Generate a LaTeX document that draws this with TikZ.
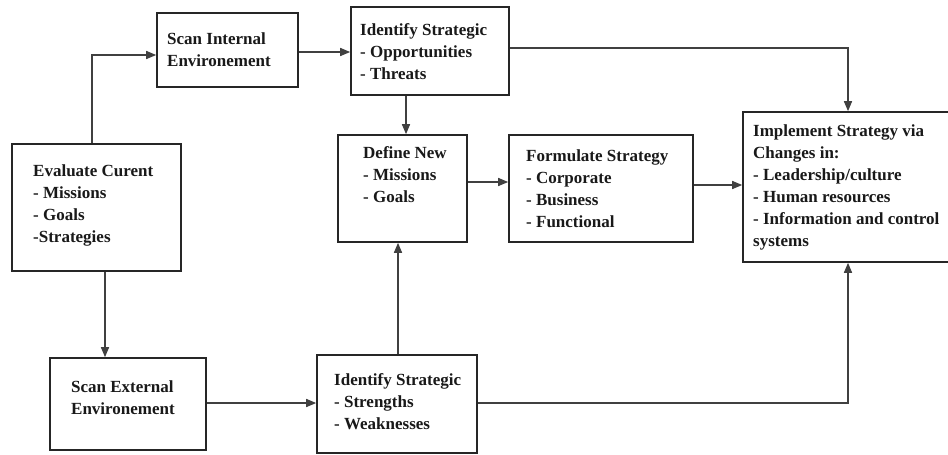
\documentclass[tikz,border=0pt]{standalone}
\usepackage{fontspec}
\setmainfont{Liberation Serif}
\usetikzlibrary{arrows.meta}
\tikzset{
  box/.style={draw=black!85, line width=1.6pt, fill=white, inner sep=0pt},
  txt/.style={anchor=west, inner sep=0pt, align=left, font=\fontsize{17}{22}\selectfont\bfseries, text=black!90},
  arr/.style={draw=black!75, line width=1.5pt, -{Triangle[length=10pt,width=8pt]}},
}
\begin{document}
\begin{tikzpicture}[x=1pt,y=-1pt]
\useasboundingbox (0,0) rectangle (948,455);
\clip (0,0) rectangle (948,455);
% boxes
\node[box, minimum width=169pt, minimum height=127pt] (eval) at (96.5,207.5) {};
\node[box, minimum width=141pt, minimum height=74pt] (scanint) at (227.5,50) {};
\node[box, minimum width=158pt, minimum height=88pt] (idot) at (430,51) {};
\node[box, minimum width=129pt, minimum height=107pt] (defnew) at (402.5,188.5) {};
\node[box, minimum width=184pt, minimum height=107pt] (formulate) at (601,188.5) {};
\node[box, minimum width=217pt, minimum height=150pt] (implement) at (851.5,187) {};
\node[box, minimum width=156pt, minimum height=92pt] (scanext) at (128,404) {};
\node[box, minimum width=160pt, minimum height=98pt] (idsw) at (397,404) {};
% texts
\node[txt] (evalt) at (33,205) {Evaluate Curent\\- Missions\\- Goals\\-Strategies};
\node[txt] (scanintt) at (167,49.5) {Scan Internal\\Environement};
\node[txt] (idott) at (360,52) {Identify Strategic\\- Opportunities\\- Threats};
\node[txt] (defnewt) at (363,175) {Define New\\- Missions\\- Goals};
\node[txt] (formulatet) at (526,188.5) {Formulate Strategy\\- Corporate\\- Business\\- Functional};
\node[txt] (implementt) at (753,187.5) {Implement Strategy via\\Changes in:\\- Leadership/culture\\- Human resources\\- Information and control\\systems};
\node[txt] (scanextt) at (71,398) {Scan External\\Environement};
\node[txt] (idswt) at (334,402) {Identify Strategic\\- Strengths\\- Weaknesses};
% routing coordinates
\coordinate (c1) at (92,55);
\coordinate (c2) at (0,52);
\coordinate (c3) at (406,0);
\coordinate (c4) at (398,0);
\coordinate (c5) at (0,182);
\coordinate (c6) at (0,185);
\coordinate (c7) at (848,48);
\coordinate (c8) at (848,403);
\coordinate (c9) at (105,0);
\coordinate (c10) at (0,403);
% connectors
\draw[arr] (eval.north -| c1) |- (scanint.west |- c1);
\draw[arr] (scanint.east |- c2) -- (idot.west |- c2);
\draw[arr] (idot.south -| c3) -- (defnew.north -| c3);
\draw[arr] (idsw.north -| c4) -- (defnew.south -| c4);
\draw[arr] (defnew.east |- c5) -- (formulate.west |- c5);
\draw[arr] (formulate.east |- c6) -- (implement.west |- c6);
\draw[arr] (idot.east |- c7) -| (implement.north -| c7);
\draw[arr] (idsw.east |- c8) -| (implement.south -| c8);
\draw[arr] (eval.south -| c9) -- (scanext.north -| c9);
\draw[arr] (scanext.east |- c10) -- (idsw.west |- c10);
\end{tikzpicture}
\end{document}
